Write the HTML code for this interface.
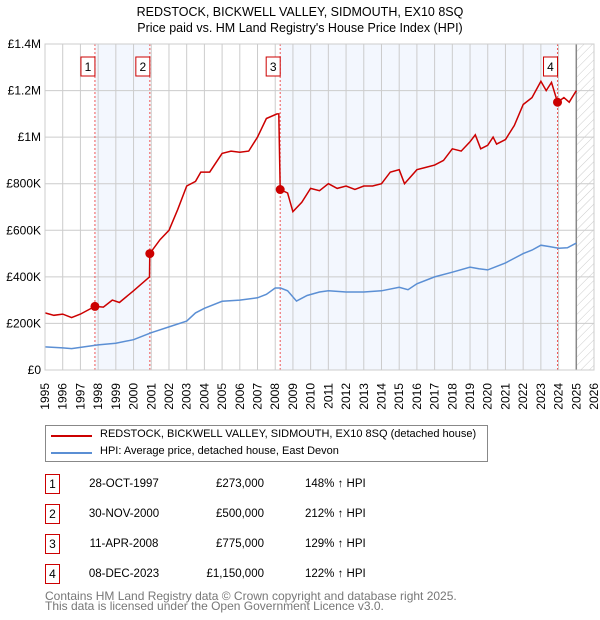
<!DOCTYPE html>
<html><head><meta charset="utf-8">
<style>
body{margin:0;background:#fff;font-family:"Liberation Sans","DejaVu Sans",sans-serif;}
#wrap{position:relative;width:600px;height:620px;overflow:hidden;}
.t{position:absolute;font-size:12px;color:#000;white-space:nowrap;}
.box{position:absolute;width:13px;height:18px;border:1px solid #c00;font-size:12px;text-align:center;line-height:18px;}
</style></head><body>
<div id="wrap">
<svg id="chart" width="600" height="420" style="position:absolute;left:0;top:0"></svg>
<div style="position:absolute;left:45px;top:425px;width:441px;height:35px;border:1px solid #888;">
  <div><div style="position:absolute;left:5px;top:9px;width:41px;height:2px;background:#c00"></div><div class="t" style="left:54px;top:2px;font-size:11px">REDSTOCK, BICKWELL VALLEY, SIDMOUTH, EX10 8SQ (detached house)</div></div>
  <div><div style="position:absolute;left:5px;top:26px;width:41px;height:2px;background:#5b8fd4"></div><div class="t" style="left:54px;top:19px;font-size:11px">HPI: Average price, detached house, East Devon</div></div>
</div>
<div id="rows"></div>
<div class="t" style="left:45px;top:591px;color:#777;line-height:10px;font-size:12px">Contains HM Land Registry data © Crown copyright and database right 2025.<br>This data is licensed under the Open Government Licence v3.0.</div>
</div>
<script>
const saleLabels=["1","2","3","4"];
const saleDates=["28-OCT-1997","30-NOV-2000","11-APR-2008","08-DEC-2023"];
const saleYears=[1997.82,2000.92,2008.28,2023.94];
const salePrices=[273000,500000,775000,1150000];
const salePriceText=["£273,000","£500,000","£775,000","£1,150,000"];
const saleHpiText=["148% ↑ HPI","212% ↑ HPI","129% ↑ HPI","122% ↑ HPI"];
const hpiYears=[1995,1995.5,1996,1996.5,1997,1998,1999,2000,2001,2002,2003,2003.5,2004,2005,2006,2007,2007.5,2008,2008.3,2008.7,2009.2,2009.8,2010.5,2011,2012,2013,2014,2015,2015.5,2016,2017,2018,2019,2019.5,2020,2020.5,2021,2022,2022.5,2023,2023.5,2024,2024.5,2025];
const hpiValues=[99,97,95,92,97,108,115,130,160,185,210,245,265,295,300,310,325,352,352,340,296,320,335,340,335,335,340,355,345,370,400,420,442,435,430,445,460,500,515,536,530,523,525,545];
const redYears=[1995,1995.5,1996,1996.5,1997,1997.82,1998.3,1998.8,1999.2,2000,2000.9,2000.92,2001.5,2002,2002.5,2003,2003.5,2003.8,2004.3,2005,2005.5,2006,2006.5,2007,2007.5,2008.1,2008.2,2008.28,2008.7,2009,2009.5,2010,2010.5,2011,2011.5,2012,2012.5,2013,2013.5,2014,2014.5,2015,2015.3,2016,2016.5,2017,2017.5,2018,2018.5,2019,2019.3,2019.6,2020,2020.3,2020.5,2021,2021.5,2022,2022.5,2023,2023.3,2023.6,2023.94,2024.3,2024.6,2025];
const redValues=[245,235,240,225,240,273,270,300,290,340,400,500,560,600,690,790,810,850,850,930,940,935,940,1000,1080,1100,1100,775,760,680,720,780,770,800,780,790,775,790,790,800,850,860,800,860,870,880,900,950,940,980,1010,950,965,1000,970,990,1050,1140,1170,1240,1200,1235,1150,1170,1150,1200];
const yTicks=[0,200000,400000,600000,800000,1000000,1200000,1400000];
const yTickLabels=["£0","£200K","£400K","£600K","£800K","£1M","£1.2M","£1.4M"];
const xTicks=[1995,1996,1997,1998,1999,2000,2001,2002,2003,2004,2005,2006,2007,2008,2009,2010,2011,2012,2013,2014,2015,2016,2017,2018,2019,2020,2021,2022,2023,2024,2025,2026];

const L=45,R=594,T=44,B=370;
const sx=y=>L+(y-1995)/(2026-1995)*(R-L);
const sy=v=>B-v/1400000*(B-T);
const NS="http://www.w3.org/2000/svg";
const svg=document.getElementById('chart');
function mk(tag,attrs,parent){const e=document.createElementNS(NS,tag);for(const k in attrs)e.setAttribute(k,attrs[k]);(parent||svg).appendChild(e);return e;}

let defs=mk('defs',{});
let pat=mk('pattern',{id:'hatch',width:6,height:6,patternUnits:'userSpaceOnUse',patternTransform:'rotate(45)'},defs);
mk('line',{x1:0,y1:0,x2:0,y2:6,stroke:'#ccc','stroke-width':1},pat);

let e;
e=mk('rect',{x:sx(saleYears[0]),y:T,width:sx(saleYears[1])-sx(saleYears[0]),height:B-T,fill:'#eef3fd',opacity:0.7});


e=mk('rect',{x:sx(saleYears[2]),y:T,width:sx(saleYears[3])-sx(saleYears[2]),height:B-T,fill:'#eef3fd',opacity:0.7});


e=mk('rect',{x:sx(2025),y:T,width:R-sx(2025),height:B-T,fill:'url(#hatch)'});



xTicks.forEach(y=>{
  let g=mk('line',{x1:sx(y),x2:sx(y),y1:T,y2:B,stroke:'#ccc','stroke-width':1});
  
  
  let x=sx(y)+4, yy=B+13;
  let t=mk('text',{x:x,y:yy,'text-anchor':'end','font-size':12,fill:'#000',transform:'rotate(-90 '+x+' '+yy+')'});
  t.textContent=y;
  
  
});
yTicks.forEach((v,i)=>{
  let g=mk('line',{x1:L,x2:R,y1:sy(v),y2:sy(v),stroke:'#ccc','stroke-width':1});
  
  
  let t=mk('text',{x:L-4,y:sy(v)+4,'text-anchor':'end','font-size':12,fill:'#000'});
  t.textContent=yTickLabels[i];
  
  
});
e=mk('line',{x1:sx(2025),x2:sx(2025),y1:T,y2:B,stroke:'#888','stroke-width':1.5});



saleYears.forEach((y,i)=>{
  let l=mk('line',{x1:sx(y),x2:sx(y),y1:T,y2:B,stroke:'#e55','stroke-width':1,'stroke-dasharray':'2,2'});
  
  
  let r=mk('rect',{x:sx(y)-14,y:57,width:14,height:19,fill:'#fff',stroke:'#c00'});
  
  
  let t=mk('text',{x:sx(y)-7,y:71,'text-anchor':'middle','font-size':12});
  t.textContent=saleLabels[i];
  
  
});

let hp=hpiYears.map((y,i)=>sx(y).toFixed(1)+','+sy(hpiValues[i]*1000).toFixed(1)).join(' ');
e=mk('polyline',{points:hp,fill:'none',stroke:'#5b8fd4','stroke-width':1.5});


let rp=redYears.map((y,i)=>sx(y).toFixed(1)+','+sy(redValues[i]*1000).toFixed(1)).join(' ');
e=mk('polyline',{points:rp,fill:'none',stroke:'#c00','stroke-width':1.5});


saleYears.forEach((y,i)=>{
  let c=mk('circle',{cx:sx(y),cy:sy(salePrices[i]),r:4.5,fill:'#c00'});
  
  
});
e=mk('rect',{x:L,y:T,width:R-L,height:B-T,fill:'none',stroke:'#ccc'});


let t1=mk('text',{x:300,y:16,'text-anchor':'middle','font-size':12.5});
t1.textContent="REDSTOCK, BICKWELL VALLEY, SIDMOUTH, EX10 8SQ";


let t2=mk('text',{x:300,y:32,'text-anchor':'middle','font-size':12.5});
t2.textContent="Price paid vs. HM Land Registry's House Price Index (HPI)";



const rows=document.getElementById('rows');
saleDates.forEach((d,i)=>{
  const top=475+i*30;
  const row=document.createElement('div');
  
  
  row.innerHTML='<div class="box" style="left:45px;top:'+(top-1)+'px">'+saleLabels[i]+'</div>'+
   '<div class="t" style="left:78px;width:92px;text-align:center;top:'+top+'px;line-height:18px;font-size:11.5px">'+d+'</div>'+
   '<div class="t" style="left:180px;width:84px;text-align:right;top:'+top+'px;line-height:18px;font-size:11.5px">'+salePriceText[i]+'</div>'+
   '<div class="t" style="left:305px;top:'+top+'px;line-height:18px;font-size:11.5px">'+saleHpiText[i]+'</div>';
  rows.appendChild(row);
});
</script>
</body></html>
